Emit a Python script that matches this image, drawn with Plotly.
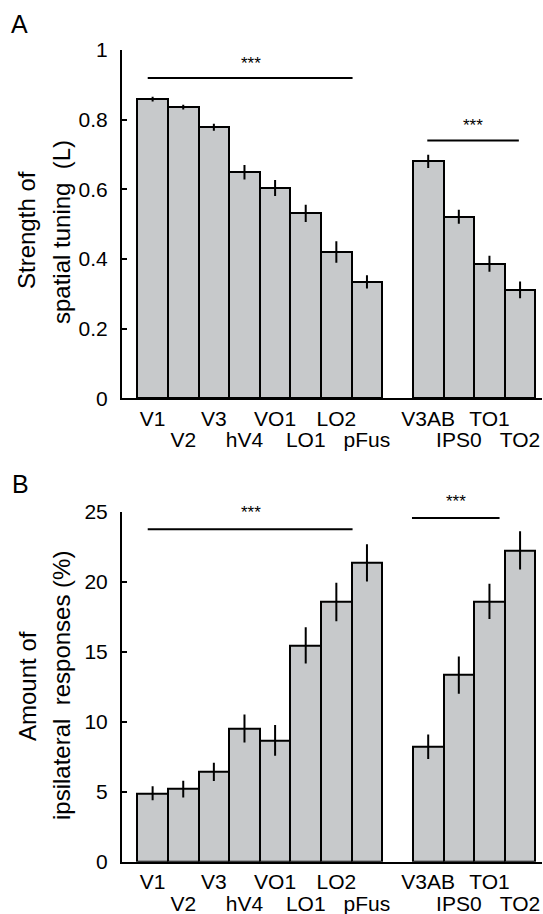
import plotly.graph_objects as go

# ---------------- data ----------------
regions_group1 = ["V1", "V2", "V3", "hV4", "VO1", "LO1", "LO2", "pFus"]
regions_group2 = ["V3AB", "IPS0", "TO1", "TO2"]

tuning_g1 = [0.859, 0.836, 0.778, 0.649, 0.604, 0.531, 0.420, 0.334]
tuning_g2 = [0.680, 0.521, 0.386, 0.311]
tuning_err_g1 = [0.007, 0.007, 0.010, 0.021, 0.023, 0.025, 0.031, 0.019]
tuning_err_g2 = [0.019, 0.020, 0.023, 0.024]

ipsi_g1 = [4.89, 5.19, 6.41, 9.52, 8.67, 15.45, 18.55, 21.34]
ipsi_g2 = [8.21, 13.33, 18.60, 22.24]
ipsi_err_g1 = [0.50, 0.60, 0.65, 1.00, 1.10, 1.30, 1.38, 1.33]
ipsi_err_g2 = [0.87, 1.33, 1.26, 1.37]

# significance brackets: (x0, x1, y_line, x_star, y_star)
sig_A = [(0.84, 7.53, 0.9195, 4.2, 0.962), (9.97, 12.96, 0.7405, 11.46, 0.784)]
sig_B = [(0.84, 7.53, 23.74, 4.2, 24.93), (9.47, 12.33, 24.55, 10.92, 25.76)]

tick_A = [0, 0.2, 0.4, 0.6, 0.8, 1]
tick_A_text = ["0", "0.2", "0.4", "0.6", "0.8", "1"]
tick_B = [0, 5, 10, 15, 20, 25]

# ---------------- layout helpers ----------------
regions = regions_group1 + regions_group2
xpos = [i + 1 for i in range(len(regions_group1))] + \
       [len(regions_group1) + 2 + i for i in range(len(regions_group2))]
row1_pos = [p for i, p in enumerate(xpos) if i % 2 == 0]
row1_txt = [r for i, r in enumerate(regions) if i % 2 == 0]
row2_pos = [p for i, p in enumerate(xpos) if i % 2 == 1]
row2_txt = [r for i, r in enumerate(regions) if i % 2 == 1]

W, H = 543, 914
FONT = "Liberation Sans, Arial, sans-serif"
BAR_FILL = "#c7c9cb"
Y_A_MAX, Y_B_MAX = 1.0, 25.0
X_RANGE = [0, 13.7]

fig = go.Figure()

def add_bars(vals, errs, xa, ya):
    fig.add_trace(go.Bar(
        x=xpos, y=vals, width=1.0, xaxis=xa, yaxis=ya,
        marker=dict(color=BAR_FILL, line=dict(color="black", width=2)),
        error_y=dict(type="data", array=errs, visible=True, width=0,
                     thickness=2, color="black"),
        showlegend=False, hoverinfo="skip"))

add_bars(tuning_g1 + tuning_g2, tuning_err_g1 + tuning_err_g2, "x", "y")
add_bars(ipsi_g1 + ipsi_g2, ipsi_err_g1 + ipsi_err_g2, "x2", "y2")
# empty carriers for the second row of category labels
fig.add_trace(go.Scatter(x=[], y=[], xaxis="x3", yaxis="y", showlegend=False, hoverinfo="skip"))
fig.add_trace(go.Scatter(x=[], y=[], xaxis="x4", yaxis="y2", showlegend=False, hoverinfo="skip"))

shapes = []
annotations = []
for (sigs, xr, yr, ymax) in [(sig_A, "x", "y", Y_A_MAX), (sig_B, "x2", "y2", Y_B_MAX)]:
    for (x0, x1, yl, xs, ys) in sigs:
        shapes.append(dict(type="line", xref=xr, yref=yr, x0=x0, x1=x1, y0=yl, y1=yl,
                           line=dict(color="black", width=2)))
        annotations.append(dict(text="***", xref=xr, yref=yr + " domain", x=xs, y=ys / ymax,
                                showarrow=False, xanchor="center", yanchor="middle",
                                font=dict(family=FONT, size=17, color="black")))

def px_x(p):
    return p / W

def px_y(p):
    return 1 - p / H

# y-axis titles (two lines each)
for txt, xp, yp in [("Strength of", 27, 230), ("spatial tuning\u00a0 (L)", 62, 232),
                    ("Amount of", 27, 686), ("ipsilateral\u00a0 responses (%)", 61, 686)]:
    annotations.append(dict(text=txt, xref="paper", yref="paper", x=px_x(xp), y=px_y(yp),
                            textangle=-90, showarrow=False, xanchor="center", yanchor="middle",
                            font=dict(family=FONT, size=24, color="black")))

# panel letters
for txt, xp, yp in [("A", 9, 8), ("B", 10, 468)]:
    annotations.append(dict(text=txt, xref="paper", yref="paper", x=px_x(xp), y=px_y(yp),
                            showarrow=False, xanchor="left", yanchor="top",
                            font=dict(family=FONT, size=25, color="black")))

xdom = [px_x(122), px_x(541.5)]
tickfont = dict(family=FONT, size=21, color="black")
xaxis_common = dict(range=X_RANGE, domain=xdom, tickmode="array", tickvals=row1_pos,
                    ticktext=row1_txt, tickangle=0, automargin=False,
                    showline=True, linecolor="black", linewidth=2,
                    ticks="", showgrid=False, zeroline=False, fixedrange=True,
                    tickfont=tickfont)
xaxis_row2 = dict(range=X_RANGE, domain=xdom, tickmode="array", tickvals=row2_pos,
                  ticktext=row2_txt, tickangle=0, automargin=False, showline=False,
                  ticks="", showgrid=False, zeroline=False, fixedrange=True,
                  ticklabelstandoff=27, side="bottom", tickfont=tickfont)
yaxis_common = dict(showline=True, linecolor="black", linewidth=2, ticks="inside",
                    ticklen=5, tickwidth=2, tickcolor="black", showgrid=False,
                    zeroline=False, fixedrange=True, ticklabelstandoff=8, automargin=False,
                    tickfont=tickfont)

fig.update_layout(
    width=W, height=H, margin=dict(l=0, r=0, t=0, b=0, pad=0),
    paper_bgcolor="white", plot_bgcolor="white", bargap=0,
    font=dict(family=FONT, color="black"),
    xaxis=dict(**xaxis_common, anchor="y"),
    yaxis=dict(**yaxis_common, range=[0, Y_A_MAX], domain=[px_y(398.3), px_y(50)],
               tickvals=tick_A, ticktext=tick_A_text, anchor="x"),
    xaxis2=dict(**xaxis_common, anchor="y2"),
    yaxis2=dict(**yaxis_common, range=[0, Y_B_MAX], domain=[px_y(861.7), px_y(511.7)],
                tickvals=tick_B, anchor="x2"),
    xaxis3=dict(**xaxis_row2, anchor="y", overlaying="x"),
    xaxis4=dict(**xaxis_row2, anchor="y2", overlaying="x2"),
    shapes=shapes, annotations=annotations,
)

fig.write_html("out.html", config={"displayModeBar": False},
               post_script="document.body.style.margin='0';document.body.style.overflow='hidden';")
